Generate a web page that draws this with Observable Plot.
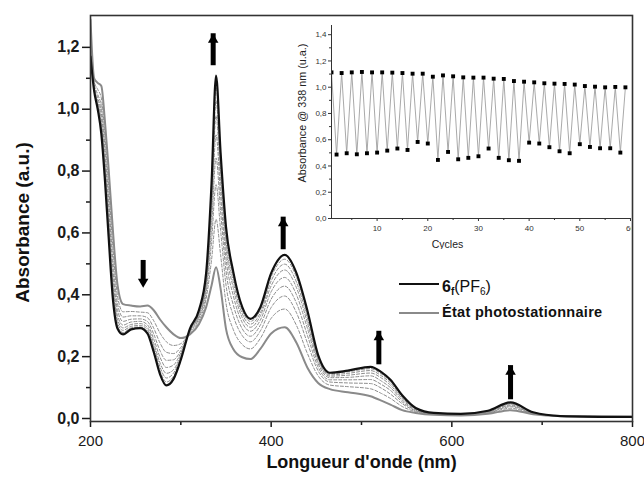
<!DOCTYPE html>
<html><head><meta charset="utf-8">
<script src="https://cdn.jsdelivr.net/npm/d3@7"></script>
<script src="https://cdn.jsdelivr.net/npm/@observablehq/plot@0.6"></script>
<style>
body{margin:0;background:#fff;}
#wrap{position:relative;width:644px;height:482px;}
#inset{position:absolute;left:285px;top:15px;}
</style></head><body><div id="wrap"><div id="main"></div><div id="inset"></div></div>
<script>
// ---------- Main spectra (absorbance vs wavelength, nm) ----------
const wavelengths = [200,204,208,212,216,220,225,230,236,245,255,263,270,277,284,292,300,310,320,328,334,339,344,350,358,368,377,388,400,415,428,440,452,465,485,510,522,532,545,560,580,610,640,665,690,720,800];
const absInitial = [1.17,1.06,1.00,0.92,0.77,0.59,0.38,0.29,0.272,0.288,0.292,0.275,0.215,0.143,0.107,0.128,0.19,0.29,0.35,0.47,0.76,1.109,0.86,0.62,0.475,0.36,0.322,0.36,0.47,0.529,0.47,0.35,0.205,0.148,0.155,0.167,0.15,0.125,0.075,0.034,0.018,0.015,0.025,0.052,0.02,0.008,0.005];
const absPSS = [1.29,1.10,1.085,1.075,0.96,0.81,0.60,0.43,0.37,0.365,0.362,0.365,0.35,0.32,0.295,0.272,0.26,0.272,0.305,0.36,0.43,0.489,0.42,0.29,0.225,0.198,0.192,0.225,0.275,0.295,0.245,0.165,0.115,0.095,0.085,0.072,0.058,0.045,0.027,0.018,0.012,0.010,0.015,0.027,0.014,0.008,0.006];
const absInter1 = [1.26,1.09,1.064,1.036,0.912,0.755,0.545,0.395,0.345,0.346,0.344,0.342,0.316,0.276,0.248,0.236,0.242,0.277,0.316,0.388,0.513,0.644,0.53,0.373,0.288,0.239,0.225,0.259,0.324,0.354,0.301,0.211,0.138,0.108,0.103,0.096,0.081,0.065,0.039,0.022,0.014,0.011,0.018,0.033,0.016,0.008,0.006];
const absInter2 = [1.238,1.083,1.048,1.008,0.878,0.715,0.505,0.37,0.328,0.332,0.332,0.326,0.292,0.244,0.214,0.21,0.23,0.280,0.324,0.407,0.572,0.756,0.609,0.432,0.333,0.268,0.248,0.283,0.359,0.396,0.342,0.245,0.154,0.118,0.115,0.113,0.098,0.079,0.048,0.025,0.015,0.012,0.019,0.038,0.017,0.008,0.006];
const absInter3 = [1.222,1.077,1.037,0.987,0.852,0.685,0.475,0.35,0.314,0.321,0.322,0.314,0.273,0.219,0.188,0.19,0.22,0.282,0.330,0.423,0.618,0.842,0.671,0.478,0.368,0.29,0.266,0.302,0.386,0.428,0.373,0.27,0.166,0.125,0.125,0.126,0.11,0.091,0.054,0.027,0.015,0.013,0.021,0.041,0.017,0.008,0.005];
const absInter4 = [1.207,1.072,1.026,0.968,0.829,0.658,0.448,0.333,0.302,0.312,0.314,0.303,0.257,0.198,0.165,0.173,0.212,0.284,0.335,0.436,0.658,0.917,0.724,0.518,0.398,0.31,0.282,0.318,0.41,0.456,0.4,0.293,0.177,0.132,0.133,0.138,0.121,0.1,0.06,0.029,0.016,0.013,0.022,0.044,0.018,0.008,0.005];
const absInter5 = [1.195,1.068,1.018,0.953,0.81,0.636,0.426,0.319,0.293,0.304,0.307,0.294,0.243,0.18,0.146,0.158,0.205,0.286,0.339,0.447,0.691,0.979,0.768,0.551,0.423,0.326,0.295,0.332,0.429,0.48,0.423,0.311,0.186,0.137,0.14,0.147,0.131,0.108,0.065,0.031,0.017,0.014,0.023,0.047,0.019,0.008,0.005];
const absInter6 = [1.186,1.065,1.011,0.94,0.795,0.619,0.409,0.308,0.285,0.298,0.301,0.287,0.233,0.166,0.131,0.147,0.199,0.288,0.344,0.456,0.717,1.028,0.803,0.577,0.443,0.339,0.305,0.342,0.445,0.499,0.441,0.326,0.193,0.141,0.146,0.155,0.138,0.115,0.069,0.032,0.017,0.014,0.024,0.049,0.019,0.008,0.005];
const absInter7 = [1.177,1.062,1.005,0.929,0.781,0.603,0.393,0.298,0.278,0.293,0.296,0.28,0.223,0.154,0.118,0.137,0.194,0.289,0.347,0.463,0.74,1.072,0.834,0.6,0.46,0.35,0.314,0.352,0.458,0.515,0.457,0.339,0.2,0.145,0.151,0.161,0.144,0.12,0.072,0.033,0.018,0.015,0.024,0.051,0.020,0.008,0.005];

const xTicksMajor = [200,400,600,800];
const xTicksMinor = [300,500,700];
const yTicksMajor = [0,0.2,0.4,0.6,0.8,1.0,1.2];
const yTicksMinor = [0.1,0.3,0.5,0.7,0.9,1.1];

// arrows (wavelength, tail absorbance, tip absorbance)
const arrowUpWl = [335.8,413.3,519.2,665];
const arrowUpTail = [1.160,0.565,0.193,0.080];
const arrowUpTip = [1.244,0.651,0.282,0.171];
const arrowDownWl = [258.3];
const arrowDownTail = [0.511];
const arrowDownTip = [0.423];

// ---------- Inset: absorbance at 338 nm vs cycles ----------
const cycles = [1,2,3,4,5,6,7,8,9,10,11,12,13,14,15,16,17,18,19,20,21,22,23,24,25,26,27,28,29,30,31,32,33,34,35,36,37,38,39,40,41,42,43,44,45,46,47,48,49,50,51,52,53,54,55,56,57,58,59];
const cycleAbs = [1.113,0.487,1.108,0.497,1.113,0.489,1.116,0.497,1.113,0.502,1.113,0.517,1.111,0.533,1.108,0.522,1.103,0.583,1.103,0.571,1.080,0.446,1.090,0.507,1.083,0.451,1.075,0.462,1.073,0.474,1.073,0.533,1.065,0.462,1.063,0.444,1.047,0.439,1.042,0.578,1.037,0.571,1.030,0.543,1.027,0.512,1.025,0.497,1.020,0.566,1.009,0.545,1.004,0.535,0.999,0.535,1.002,0.502,0.999];
const insetYTicksMajor = [0,0.2,0.4,0.6,0.8,1.0,1.2,1.4];
const insetYTicksMinor = [0.1,0.3,0.5,0.7,0.9,1.1,1.3];
const insetXTicksMajor = [10,20,30,40,50,60];
const insetXTicksMinor = [5,15,25,35,45,55];

// ---------- build tables ----------
const toRows = (arr, name) => arr.map((a, i) => ({wl: wavelengths[i], a, series: name}));
const initRows = toRows(absInitial, "init");
const pssRows = toRows(absPSS, "pss");
const dashedRows = [absInter1,absInter2,absInter3,absInter4,absInter5,absInter6,absInter7]
  .flatMap((arr, k) => toRows(arr, "inter" + (k + 1)));
const upArrows = arrowUpWl.map((wl, i) => ({wl, tail: arrowUpTail[i], tip: arrowUpTip[i]}));
const downArrows = arrowDownWl.map((wl, i) => ({wl, tail: arrowDownTail[i], tip: arrowDownTip[i]}));
const cycRows = cycles.map((c, i) => ({c, a: cycleAbs[i]}));

const comma = d => d3.format(".1f")(d).replace(".", ",");
const FONT = "'Liberation Sans', Arial, Helvetica, sans-serif";

const main = Plot.plot({
  width: 644, height: 482,
  marginLeft: 90, marginRight: 12, marginTop: 15, marginBottom: 61,
  style: {fontFamily: FONT, background: "#fff", color: "#1a1a1a"},
  x: {domain: [200, 800], label: null},
  y: {domain: [-0.0097, 1.303], label: null},
  marks: [
    Plot.line(dashedRows, {x: "wl", y: "a", z: "series", stroke: "#8c8c8c", strokeWidth: 1, strokeDasharray: "3,2", curve: "monotone-x", clip: true}),
    Plot.line(pssRows, {x: "wl", y: "a", stroke: "#8a8a8a", strokeWidth: 2, curve: "monotone-x", clip: true}),
    Plot.line(initRows, {x: "wl", y: "a", stroke: "#111", strokeWidth: 2.2, curve: "monotone-x", clip: true}),
    Plot.ruleX(upArrows, {x: "wl", y1: "tail", y2: "tip", stroke: "#000", strokeWidth: 5, insetTop: 6}),
    Plot.dot(upArrows, {x: "wl", y: "tip", symbol: "triangle", r: 3.9, fill: "#000", stroke: "none", dy: 6}),
    Plot.ruleX(downArrows, {x: "wl", y1: "tail", y2: "tip", stroke: "#000", strokeWidth: 5, insetBottom: 6}),
    Plot.dot(downArrows, {x: "wl", y: "tip", symbol: "triangle", r: 3.9, fill: "#000", stroke: "none", rotate: 180, dy: -6}),
    Plot.axisY(yTicksMajor, {tickSize: 8, tickPadding: 3, tickFormat: comma, fontSize: 16, fontWeight: "bold", strokeWidth: 1.5, label: null}),
    Plot.axisY(yTicksMinor, {tickSize: 4, tickFormat: () => "", strokeWidth: 1.5, label: null}),
    Plot.axisX(xTicksMajor, {tickSize: 6, tickPadding: 8, fontSize: 15, strokeWidth: 1.5, label: null}),
    Plot.axisX(xTicksMinor, {tickSize: 4, tickFormat: () => "", strokeWidth: 1.5, label: null}),
    Plot.frame({stroke: "#333", strokeWidth: 1.6}),
    Plot.text(["Absorbance (a.u.)"], {frameAnchor: "left", textAnchor: "middle", rotate: -90, dx: -68, dy: 4, fontSize: 19, fontWeight: "bold", fill: "#111"}),
    Plot.text(["Longueur d'onde (nm)"], {frameAnchor: "bottom", textAnchor: "middle", dy: 46, fontSize: 18, fontWeight: "bold", fill: "#111"})
  ]
});
document.getElementById("main").appendChild(main);

// legend
const lg = d3.select(main).append("g").attr("font-family", FONT).attr("fill", "#111").attr("text-anchor", "start");
lg.append("line").attr("x1", 399).attr("x2", 439).attr("y1", 284).attr("y2", 284).attr("stroke", "#111").attr("stroke-width", 2);
lg.append("line").attr("x1", 399).attr("x2", 439).attr("y1", 313).attr("y2", 313).attr("stroke", "#8a8a8a").attr("stroke-width", 2);
const t1 = lg.append("text").attr("x", 442).attr("y", 291.5).attr("font-size", 16).attr("text-anchor", "start");
t1.append("tspan").attr("font-weight", "bold").text("6");
t1.append("tspan").attr("font-weight", "bold").attr("font-size", 10).attr("dy", 3).text("f");
t1.append("tspan").attr("dy", -3).text("(PF");
t1.append("tspan").attr("font-size", 10).attr("dy", 3).text("6");
t1.append("tspan").attr("dy", -3).text(")");
lg.append("text").attr("x", 442).attr("y", 317.3).attr("font-size", 14.5).attr("letter-spacing", 0.3).attr("font-weight", "bold").attr("text-anchor", "start").text("État photostationnaire");

// inset
const inset = Plot.plot({
  width: 346, height: 234,
  marginLeft: 46, marginRight: 0, marginTop: 10, marginBottom: 31,
  style: {fontFamily: FONT, background: "transparent", color: "#333"},
  x: {domain: [1, 60.2], label: null},
  y: {domain: [0, 1.47], label: null},
  marks: [
    Plot.line(cycRows, {x: "c", y: "a", stroke: "#9f9f9f", strokeWidth: 0.9}),
    Plot.dot(cycRows, {x: "c", y: "a", symbol: "square", r: 2.2, fill: "#000", stroke: "none", clip: true}),
    Plot.axisY(insetYTicksMajor, {tickSize: 3, tickPadding: 2, tickFormat: comma, fontSize: 8, label: null}),
    Plot.axisY(insetYTicksMinor, {tickSize: 2, tickFormat: () => "", label: null}),
    Plot.axisX(insetXTicksMajor, {tickSize: 3, tickPadding: 4, fontSize: 8, label: null}),
    Plot.axisX(insetXTicksMinor, {tickSize: 2, tickFormat: () => "", label: null}),
    Plot.ruleX([1], {stroke: "#333", strokeWidth: 1}),
    Plot.ruleY([0], {stroke: "#333", strokeWidth: 1}),
    Plot.text(["Absorbance @ 338 nm (u.a.)"], {frameAnchor: "left", textAnchor: "middle", rotate: -90, dx: -29, dy: -9, fontSize: 10.8, fill: "#222"}),
    Plot.text(["Cycles"], {frameAnchor: "bottom", textAnchor: "middle", dx: -34, dy: 29, fontSize: 10.5, fill: "#222"})
  ]
});
document.getElementById("inset").appendChild(inset);
</script></body></html>
